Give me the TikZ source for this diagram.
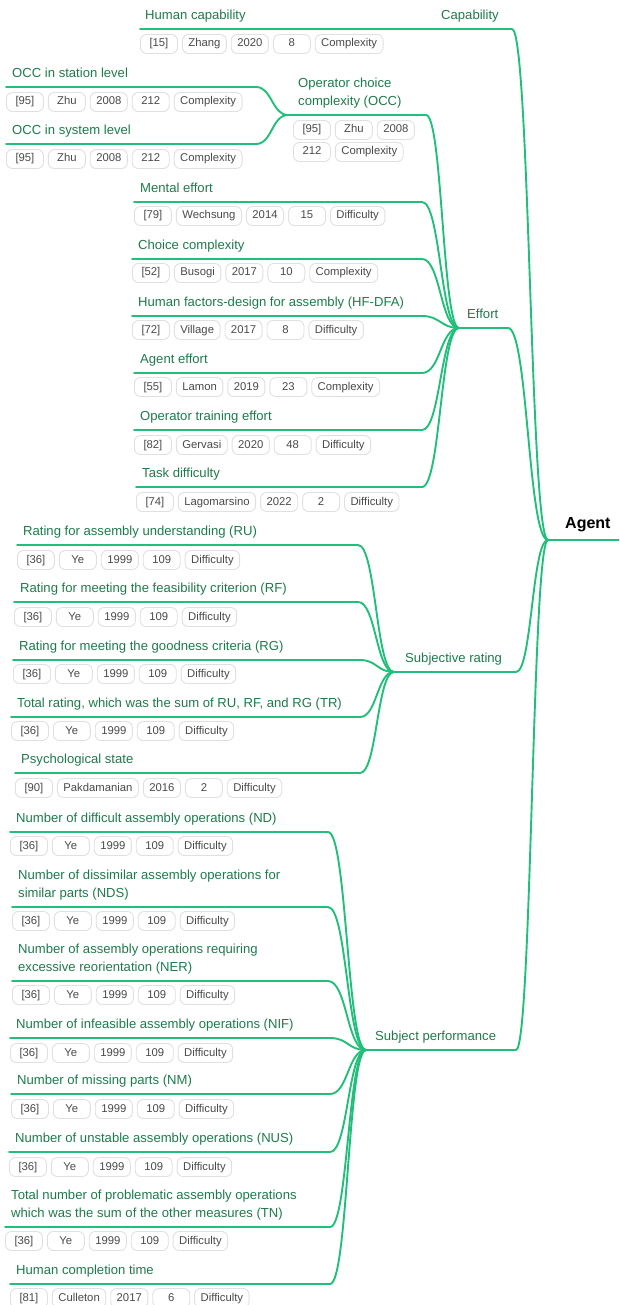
\documentclass[tikz,border=0pt]{standalone}
\usepackage{fontspec}
\setmainfont{Liberation Sans}
\usetikzlibrary{calc}

\definecolor{linkgreen}{HTML}{22BF7A}
\definecolor{labelgreen}{HTML}{1E7A4C}
\definecolor{chipborder}{HTML}{E0E0E0}
\definecolor{chiptext}{HTML}{4A4A4A}

% strut giving every label line the same height and depth
\newcommand\lstrut{\rule[-3pt]{0pt}{13pt}}

\tikzset{
  branch/.style={draw=linkgreen, line width=1.9pt, line cap=round},
  rootline/.style={draw=linkgreen, line width=2.6pt},
  topic/.style={anchor=south west, inner sep=0pt, text=labelgreen,
    font=\fontsize{13.1}{18}\selectfont, align=left},
  chip/.style={draw=chipborder, line width=0.9pt, rounded corners=6pt,
    fill=white, text=chiptext, font=\fontsize{11.3}{13}\selectfont,
    minimum width=37pt, minimum height=19pt, inner xsep=6pt, inner ysep=0pt,
    text height=8.5pt, text depth=2.5pt},
}

% topic: name, left end, right end, underline y, text x, text
\newcommand\topic[6]{%
  \coordinate (#1-L) at (#2,#4);
  \coordinate (#1-R) at (#3,#4);
  \draw[branch] (#1-L) -- (#1-R);
  \node[topic] (#1) at (#5,#4-6) {\lstrut #6};
}

% curved connector from a parent's junction to a child's right end
\newcommand\linkto[2]{%
  \coordinate (lnk) at ($(#1)!0.5!(#2)$);
  \draw[branch] (#2) .. controls (lnk |- #2) and (lnk |- #1) .. (#1);
}

% row of five reference chips: name, x, y, texts
\newcommand\chiprow[8]{%
  \node[chip, anchor=west] (#1-1) at (#2,#3) {#4};
  \node[chip, anchor=west] (#1-2) at ([xshift=4pt]#1-1.east) {#5};
  \node[chip, anchor=west] (#1-3) at ([xshift=4pt]#1-2.east) {#6};
  \node[chip, anchor=west] (#1-4) at ([xshift=4pt]#1-3.east) {#7};
  \node[chip, anchor=west] (#1-5) at ([xshift=4pt]#1-4.east) {#8};
}

\begin{document}
\begin{tikzpicture}[x=1pt, y=-1pt]
\useasboundingbox (0,0) rectangle (619,1305);

% ---------- root ----------
\coordinate (agent-L) at (548,540);
\coordinate (agent-R) at (619,540);
\draw[rootline] (agent-L) -- (agent-R);
\node[anchor=base west, inner sep=0pt, text=black,
  font=\fontsize{16}{19}\selectfont\bfseries] (agent) at (565,528) {Agent};

% ---------- Capability ----------
\topic{cap}{436}{512}{29}{441}{Capability}
\topic{hcap}{140}{436}{29}{145}{Human capability}
\chiprow{hcapc}{140}{44}{[15]}{Zhang}{2020}{8}{Complexity}

% ---------- Effort ----------
\topic{eff}{459}{508}{328}{467}{Effort}

\topic{occ}{288}{426}{115}{298}{Operator choice\\\lstrut complexity (OCC)}
\node[chip, anchor=west] (occc-1) at (293,130) {[95]};
\node[chip, anchor=west] (occc-2) at ([xshift=4pt]occc-1.east) {Zhu};
\node[chip, anchor=west] (occc-3) at ([xshift=4pt]occc-2.east) {2008};
\node[chip, anchor=west] (occc-4) at (293,152) {212};
\node[chip, anchor=west] (occc-5) at ([xshift=4pt]occc-4.east) {Complexity};

\topic{stat}{6}{256}{87}{12}{OCC in station level}
\chiprow{statc}{6}{102}{[95]}{Zhu}{2008}{212}{Complexity}
\topic{syst}{6}{256}{144}{12}{OCC in system level}
\chiprow{systc}{6}{159}{[95]}{Zhu}{2008}{212}{Complexity}

\topic{ment}{134}{422}{202}{140}{Mental effort}
\chiprow{mentc}{134}{216}{[79]}{Wechsung}{2014}{15}{Difficulty}
\topic{choi}{132}{422}{259}{138}{Choice complexity}
\chiprow{choic}{132}{273}{[52]}{Busogi}{2017}{10}{Complexity}
\topic{hfdfa}{132}{422}{316}{138}{Human factors-design for assembly (HF-DFA)}
\chiprow{hfdfac}{132}{330}{[72]}{Village}{2017}{8}{Difficulty}
\topic{aeff}{134}{422}{373}{140}{Agent effort}
\chiprow{aeffc}{134}{387}{[55]}{Lamon}{2019}{23}{Complexity}
\topic{ote}{134}{422}{430}{140}{Operator training effort}
\chiprow{otec}{134}{445}{[82]}{Gervasi}{2020}{48}{Difficulty}
\topic{tdif}{136}{422}{487}{142}{Task difficulty}
\chiprow{tdifc}{136}{502}{[74]}{Lagomarsino}{2022}{2}{Difficulty}

% ---------- Subjective rating ----------
\topic{subj}{394}{516}{672}{405}{Subjective rating}
\topic{ru}{17}{358}{545}{23}{Rating for assembly understanding (RU)}
\chiprow{ruc}{17}{560}{[36]}{Ye}{1999}{109}{Difficulty}
\topic{rf}{14}{358}{602}{20}{Rating for meeting the feasibility criterion (RF)}
\chiprow{rfc}{14}{617}{[36]}{Ye}{1999}{109}{Difficulty}
\topic{rg}{13}{360}{660}{19}{Rating for meeting the goodness criteria (RG)}
\chiprow{rgc}{13}{674}{[36]}{Ye}{1999}{109}{Difficulty}
\topic{tr}{11}{360}{717}{17}{Total rating, which was the sum of RU, RF, and RG (TR)}
\chiprow{trc}{11}{731}{[36]}{Ye}{1999}{109}{Difficulty}
\topic{psy}{15}{360}{773}{21}{Psychological state}
\chiprow{psyc}{15}{788}{[90]}{Pakdamanian}{2016}{2}{Difficulty}

% ---------- Subject performance ----------
\topic{perf}{366}{516}{1050}{375}{Subject performance}
\topic{nd}{10}{328}{832}{16}{Number of difficult assembly operations (ND)}
\chiprow{ndc}{10}{846}{[36]}{Ye}{1999}{109}{Difficulty}
\topic{nds}{12}{328}{907}{18}{Number of dissimilar assembly operations for\\\lstrut similar parts (NDS)}
\chiprow{ndsc}{12}{921}{[36]}{Ye}{1999}{109}{Difficulty}
\topic{ner}{12}{328}{981}{18}{Number of assembly operations requiring\\\lstrut excessive reorientation (NER)}
\chiprow{nerc}{12}{995}{[36]}{Ye}{1999}{109}{Difficulty}
\topic{nif}{10}{330}{1038}{16}{Number of infeasible assembly operations (NIF)}
\chiprow{nifc}{10}{1053}{[36]}{Ye}{1999}{109}{Difficulty}
\topic{nm}{11}{330}{1094}{17}{Number of missing parts (NM)}
\chiprow{nmc}{11}{1109}{[36]}{Ye}{1999}{109}{Difficulty}
\topic{nus}{9}{330}{1152}{15}{Number of unstable assembly operations (NUS)}
\chiprow{nusc}{9}{1167}{[36]}{Ye}{1999}{109}{Difficulty}
\topic{tn}{5}{330}{1227}{11}{Total number of problematic assembly operations\\\lstrut which was the sum of the other measures (TN)}
\chiprow{tnc}{5}{1241}{[36]}{Ye}{1999}{109}{Difficulty}
\topic{hct}{10}{330}{1284}{16}{Human completion time}
\chiprow{hctc}{10}{1298}{[81]}{Culleton}{2017}{6}{Difficulty}

% ---------- connectors ----------
\linkto{agent-L}{cap-R}
\linkto{agent-L}{eff-R}
\linkto{agent-L}{subj-R}
\linkto{agent-L}{perf-R}

\linkto{eff-L}{occ-R}
\linkto{eff-L}{ment-R}
\linkto{eff-L}{choi-R}
\linkto{eff-L}{hfdfa-R}
\linkto{eff-L}{aeff-R}
\linkto{eff-L}{ote-R}
\linkto{eff-L}{tdif-R}

\linkto{occ-L}{stat-R}
\linkto{occ-L}{syst-R}

\linkto{subj-L}{ru-R}
\linkto{subj-L}{rf-R}
\linkto{subj-L}{rg-R}
\linkto{subj-L}{tr-R}
\linkto{subj-L}{psy-R}

\linkto{perf-L}{nd-R}
\linkto{perf-L}{nds-R}
\linkto{perf-L}{ner-R}
\linkto{perf-L}{nif-R}
\linkto{perf-L}{nm-R}
\linkto{perf-L}{nus-R}
\linkto{perf-L}{tn-R}
\linkto{perf-L}{hct-R}
\end{tikzpicture}
\end{document}
